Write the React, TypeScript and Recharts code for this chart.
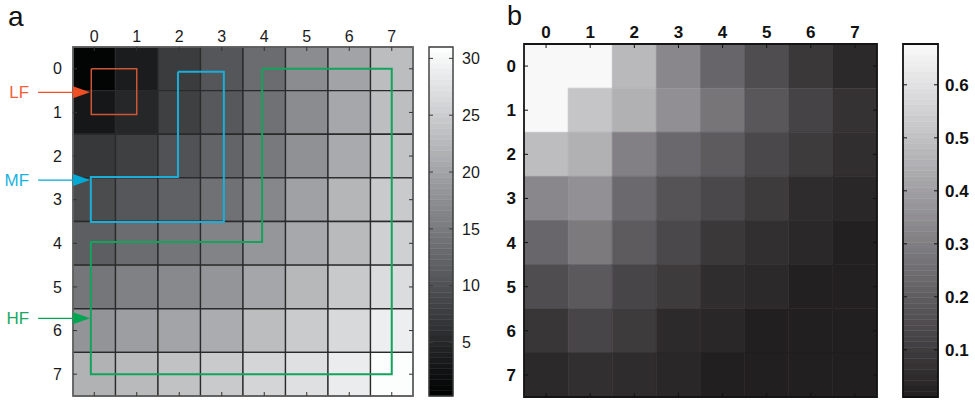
import React from 'react';
import {
  ComposedChart,
  XAxis,
  YAxis,
  ReferenceArea,
  ReferenceLine,
  ReferenceDot,
  Scatter,
} from 'recharts';

const FONT = '"Liberation Sans", Arial, Helvetica, sans-serif';

// ---------- data ----------
const cellTicks = [0, 1, 2, 3, 4, 5, 6, 7];
const cellDomain: [number, number] = [-0.5, 7.5];

// panel a: 8x8 values (rows top -> bottom)
const lumaRows = [
  [0.8, 3.7, 7.5, 10.7, 13.3, 17.2, 19.9, 23.1],
  [3.1, 5.0, 8.0, 10.9, 13.9, 17.2, 20.4, 23.2],
  [7.0, 8.0, 10.2, 12.3, 14.9, 17.8, 20.8, 23.8],
  [9.4, 10.8, 12.0, 13.9, 16.6, 19.7, 22.2, 24.6],
  [11.6, 13.3, 14.4, 16.1, 18.4, 20.5, 22.7, 25.3],
  [14.5, 15.8, 16.8, 18.2, 20.3, 22.5, 24.5, 26.8],
  [18.1, 19.3, 20.0, 21.0, 23.1, 24.7, 26.4, 29.0],
  [21.7, 22.7, 23.7, 24.6, 25.9, 27.3, 28.7, 30.8],
];

// panel b: 8x8 values
const chromaRows = [
  [0.672, 0.672, 0.477, 0.328, 0.225, 0.15, 0.088, 0.041],
  [0.672, 0.515, 0.452, 0.353, 0.272, 0.181, 0.119, 0.069],
  [0.49, 0.452, 0.306, 0.234, 0.194, 0.135, 0.097, 0.057],
  [0.328, 0.356, 0.237, 0.169, 0.135, 0.097, 0.051, 0.035],
  [0.228, 0.287, 0.194, 0.135, 0.088, 0.06, 0.038, 0.014],
  [0.15, 0.188, 0.128, 0.097, 0.054, 0.041, 0.014, 0.014],
  [0.082, 0.128, 0.097, 0.044, 0.035, 0.012, 0.012, 0.011],
  [0.041, 0.06, 0.051, 0.035, 0.012, 0.012, 0.011, 0.011],
];

const lumaBarTicks = [5, 10, 15, 20, 25, 30];
const lumaRange: [number, number] = [0.3, 31];
const chromaBarTicks = [0.1, 0.2, 0.3, 0.4, 0.5, 0.6];
const chromaRange: [number, number] = [0.011, 0.677];
const colorbarLevels = 64;
const colorbarX = [0, 1];

// frequency band outlines (cell coordinates)
const lfOutline = [
  { x: -0.07, y: 0 },
  { x: 1, y: 0 },
  { x: 1, y: 1.05 },
  { x: -0.07, y: 1.05 },
  { x: -0.07, y: 0 },
];
const mfOutline = [
  { x: 1.97, y: 0.07 },
  { x: 3.05, y: 0.07 },
  { x: 3.05, y: 3.51 },
  { x: -0.08, y: 3.51 },
  { x: -0.08, y: 2.48 },
  { x: 1.97, y: 2.48 },
  { x: 1.97, y: 0.07 },
];
const hfOutline = [
  { x: 3.95, y: 0 },
  { x: 7, y: 0 },
  { x: 7, y: 7 },
  { x: -0.08, y: 7 },
  { x: -0.08, y: 3.97 },
  { x: 3.95, y: 3.97 },
  { x: 3.95, y: 0 },
];

const bandNames = ['LF', 'MF', 'HF'];
const bandArrowRows = [0.54, 2.55, 5.72];
const bandTextColors = ['#f2603a', '#1ab2de', '#19a862'];
const bandLineColors = ['#cf5534', '#1aaed8', '#13a35c'];
const bandLineWidths = [1.5, 2, 2];
const bandArrowColors = ['#f04e23', '#00aad6', '#00a651'];
const bandOutlines = [lfOutline, mfOutline, hfOutline];

// ---------- colour maps ----------
const clamp01 = (t: number) => Math.max(0, Math.min(1, t));

function lumaColor(v: number) {
  const t = clamp01((v - lumaRange[0]) / (lumaRange[1] - lumaRange[0]));
  const g = Math.round(t * 255);
  const tint = Math.round(3 * Math.sin(Math.PI * t));
  return `rgb(${Math.max(0, g - 1)},${g},${Math.min(255, g + tint)})`;
}

function chromaColor(v: number) {
  const t = clamp01((v - chromaRange[0]) / (chromaRange[1] - chromaRange[0]));
  const r = Math.round(34 + t * 216);
  const g = Math.round(31 + t * 219);
  const b = Math.round(32 + t * 218 + 3 * Math.sin(Math.PI * t));
  return `rgb(${r},${g},${Math.min(255, b)})`;
}

type Cell = { row: number; col: number; v: number };
const toCells = (rows: number[][]): Cell[] =>
  rows.flatMap((r, row) => r.map((v, col) => ({ row, col, v })));

const lumaCells = toCells(lumaRows);
const chromaCells = toCells(chromaRows);

function bandsFor(range: [number, number]) {
  const step = (range[1] - range[0]) / colorbarLevels;
  return Array.from({ length: colorbarLevels }, (_, i) => ({
    y1: range[0] + i * step,
    y2: range[0] + (i + 1) * step,
    mid: range[0] + (i + 0.5) * step,
  }));
}

const noShape = () => <g />;
const noTick = () => <g />;

// ---------- panel a ----------
function PanelA() {
  const tickFont = { fill: '#1a1a1a', fontSize: 16, fontFamily: FONT };
  return (
    <ComposedChart width={480} height={401} margin={{ top: 17, left: 43, right: 66, bottom: 4 }}>
      <XAxis
        xAxisId="t"
        orientation="top"
        type="number"
        dataKey="x"
        domain={cellDomain}
        allowDataOverflow
        ticks={cellTicks}
        interval={0}
        height={30}
        tickSize={-4}
        tickMargin={9}
        axisLine={false}
        tickLine={{ stroke: '#333' }}
        tick={tickFont}
      />
      <XAxis
        xAxisId="b"
        orientation="bottom"
        type="number"
        dataKey="x"
        domain={cellDomain}
        allowDataOverflow
        ticks={cellTicks}
        interval={0}
        height={1}
        tickSize={-4}
        axisLine={false}
        tickLine={{ stroke: '#333' }}
        tick={noTick}
      />
      <YAxis
        yAxisId="l"
        orientation="left"
        type="number"
        dataKey="y"
        reversed
        domain={cellDomain}
        allowDataOverflow
        ticks={cellTicks}
        interval={0}
        width={30}
        tickSize={-4}
        tickMargin={15}
        axisLine={false}
        tickLine={{ stroke: '#333' }}
        tick={tickFont}
      />
      <YAxis
        yAxisId="r"
        orientation="right"
        type="number"
        dataKey="y"
        reversed
        domain={cellDomain}
        allowDataOverflow
        ticks={cellTicks}
        interval={0}
        width={1}
        tickSize={-4}
        axisLine={false}
        tickLine={{ stroke: '#333' }}
        tick={noTick}
      />
      {lumaCells.map((c) => (
        <ReferenceArea
          key={`a-${c.row}-${c.col}`}
          xAxisId="t"
          yAxisId="l"
          x1={c.col - 0.5}
          x2={c.col + 0.5}
          y1={c.row - 0.5}
          y2={c.row + 0.5}
          fill={lumaColor(c.v)}
          fillOpacity={1}
          stroke="#2a2a2a"
          strokeWidth={1.3}
          strokeOpacity={1}
          ifOverflow="visible"
        />
      ))}
      <ReferenceArea
        xAxisId="t"
        yAxisId="l"
        x1={-0.5}
        x2={7.5}
        y1={-0.5}
        y2={7.5}
        fill="none"
        stroke="#6a6a6a"
        strokeWidth={1.6}
        strokeOpacity={1}
        ifOverflow="visible"
      />
      {bandNames.map((name, i) => (
        <Scatter
          key={`out-${name}`}
          xAxisId="t"
          yAxisId="l"
          data={bandOutlines[i]}
          line={{ stroke: bandLineColors[i], strokeWidth: bandLineWidths[i] }}
          lineType="joint"
          shape={noShape}
          isAnimationActive={false}
        />
      ))}
      {bandNames.map((name, i) => (
        <ReferenceLine
          key={`arr-${name}`}
          xAxisId="t"
          yAxisId="l"
          segment={[
            { x: -1.32, y: bandArrowRows[i] },
            { x: -0.5, y: bandArrowRows[i] },
          ]}
          stroke={bandArrowColors[i]}
          strokeWidth={1.3}
          ifOverflow="visible"
          label={{
            value: name,
            position: 'left',
            offset: 9,
            fill: bandTextColors[i],
            fontSize: 17,
            fontFamily: FONT,
          }}
        />
      ))}
      {bandNames.map((name, i) => (
        <ReferenceDot
          key={`tip-${name}`}
          xAxisId="t"
          yAxisId="l"
          x={-0.1}
          y={bandArrowRows[i]}
          ifOverflow="visible"
          shape={(p: any) => (
            <polygon
              points={`${p.cx},${p.cy} ${p.cx - 17},${p.cy - 6} ${p.cx - 17},${p.cy + 6}`}
              fill={bandArrowColors[i]}
            />
          )}
        />
      ))}
    </ComposedChart>
  );
}

// ---------- panel b ----------
function PanelB() {
  const tickFont = { fill: '#111', fontSize: 17, fontWeight: 700, fontFamily: FONT };
  return (
    <ComposedChart width={420} height={401} margin={{ top: 14, left: 14, right: 22, bottom: 3 }}>
      <XAxis
        xAxisId="t"
        orientation="top"
        type="number"
        dataKey="x"
        domain={cellDomain}
        allowDataOverflow
        ticks={cellTicks}
        interval={0}
        height={30}
        tickSize={-4}
        tickMargin={10}
        axisLine={false}
        tickLine={{ stroke: '#111' }}
        tick={tickFont}
      />
      <XAxis
        xAxisId="b"
        orientation="bottom"
        type="number"
        dataKey="x"
        domain={cellDomain}
        allowDataOverflow
        ticks={cellTicks}
        interval={0}
        height={1}
        tickSize={-4}
        axisLine={false}
        tickLine={{ stroke: '#111' }}
        tick={noTick}
      />
      <YAxis
        yAxisId="l"
        orientation="left"
        type="number"
        dataKey="y"
        reversed
        domain={cellDomain}
        allowDataOverflow
        ticks={cellTicks}
        interval={0}
        width={30}
        tickSize={-4}
        tickMargin={12}
        axisLine={false}
        tickLine={{ stroke: '#111' }}
        tick={tickFont}
      />
      <YAxis
        yAxisId="r"
        orientation="right"
        type="number"
        dataKey="y"
        reversed
        domain={cellDomain}
        allowDataOverflow
        ticks={cellTicks}
        interval={0}
        width={1}
        tickSize={-4}
        axisLine={false}
        tickLine={{ stroke: '#111' }}
        tick={noTick}
      />
      {chromaCells.map((c) => (
        <ReferenceArea
          key={`b-${c.row}-${c.col}`}
          xAxisId="t"
          yAxisId="l"
          x1={c.col - 0.5}
          x2={c.col + 0.5}
          y1={c.row - 0.5}
          y2={c.row + 0.5}
          fill={chromaColor(c.v)}
          fillOpacity={1}
          stroke={chromaColor(c.v)}
          strokeWidth={0.6}
          strokeOpacity={1}
          ifOverflow="visible"
        />
      ))}
      <ReferenceArea
        xAxisId="t"
        yAxisId="l"
        x1={-0.5}
        x2={7.5}
        y1={-0.5}
        y2={7.5}
        fill="none"
        stroke="#151515"
        strokeWidth={1.8}
        strokeOpacity={1}
        ifOverflow="visible"
      />
    </ComposedChart>
  );
}

// ---------- colour bars ----------
function Colorbar(props: {
  range: [number, number];
  ticks: number[];
  colorFn: (v: number) => string;
  width: number;
  margin: { top: number; bottom: number; left: number; right: number };
  labelWidth: number;
  tickMargin: number;
  font: any;
  frame: string;
  frameWidth: number;
}) {
  const bands = bandsFor(props.range);
  return (
    <ComposedChart width={props.width} height={401} margin={props.margin}>
      <XAxis
        xAxisId="x"
        orientation="bottom"
        type="number"
        dataKey="x"
        domain={colorbarX}
        allowDataOverflow
        ticks={colorbarX}
        height={1}
        axisLine={false}
        tickLine={false}
        tick={noTick}
      />
      <YAxis
        yAxisId="l"
        orientation="left"
        type="number"
        dataKey="y"
        domain={props.range}
        allowDataOverflow
        ticks={props.ticks}
        interval={0}
        width={1}
        tickSize={-4}
        axisLine={false}
        tickLine={{ stroke: props.frame }}
        tick={noTick}
      />
      <YAxis
        yAxisId="r"
        orientation="right"
        type="number"
        dataKey="y"
        domain={props.range}
        allowDataOverflow
        ticks={props.ticks}
        interval={0}
        width={props.labelWidth}
        tickSize={-4}
        tickMargin={props.tickMargin}
        axisLine={false}
        tickLine={{ stroke: props.frame }}
        tick={props.font}
      />
      {bands.map((b, i) => (
        <ReferenceArea
          key={`band-${i}`}
          xAxisId="x"
          yAxisId="r"
          x1={0}
          x2={1}
          y1={b.y1}
          y2={b.y2}
          fill={props.colorFn(b.mid)}
          fillOpacity={1}
          stroke={props.colorFn(b.mid)}
          strokeWidth={0.5}
          strokeOpacity={1}
          ifOverflow="visible"
        />
      ))}
      <ReferenceArea
        xAxisId="x"
        yAxisId="r"
        x1={0}
        x2={1}
        y1={props.range[0]}
        y2={props.range[1]}
        fill="none"
        stroke={props.frame}
        strokeWidth={props.frameWidth}
        strokeOpacity={1}
        ifOverflow="visible"
      />
    </ComposedChart>
  );
}

export default function App() {
  return (
    <div
      style={{
        position: 'absolute',
        left: 0,
        top: 0,
        width: 975,
        height: 401,
        background: '#fff',
        overflow: 'hidden',
        fontFamily: FONT,
      }}
    >
      <div style={{ position: 'absolute', left: 0, top: 0 }}>
        <PanelA />
      </div>
      <div style={{ position: 'absolute', left: 420, top: 0 }}>
        <Colorbar
          range={lumaRange}
          ticks={lumaBarTicks}
          colorFn={lumaColor}
          width={75}
          margin={{ top: 47, bottom: 4, left: 8, right: 2 }}
          labelWidth={40}
          tickMargin={13}
          font={{ fill: '#1a1a1a', fontSize: 16, fontFamily: FONT }}
          frame="#3a3a3a"
          frameWidth={1.4}
        />
      </div>
      <div style={{ position: 'absolute', left: 480, top: 0 }}>
        <PanelB />
      </div>
      <div style={{ position: 'absolute', left: 895, top: 0 }}>
        <Colorbar
          range={chromaRange}
          ticks={chromaBarTicks}
          colorFn={chromaColor}
          width={80}
          margin={{ top: 44, bottom: 3, left: 7, right: 1 }}
          labelWidth={36}
          tickMargin={11}
          font={{ fill: '#111', fontSize: 17, fontWeight: 700, fontFamily: FONT }}
          frame="#111"
          frameWidth={1.8}
        />
      </div>
      <svg
        width={975}
        height={401}
        style={{ position: 'absolute', left: 0, top: 0, pointerEvents: 'none' }}
      >
        <text x={8} y={26} fontSize={28} fontFamily={FONT} fill="#111">
          a
        </text>
        <text x={507} y={25} fontSize={27} fontFamily={FONT} fill="#111">
          b
        </text>
      </svg>
    </div>
  );
}
